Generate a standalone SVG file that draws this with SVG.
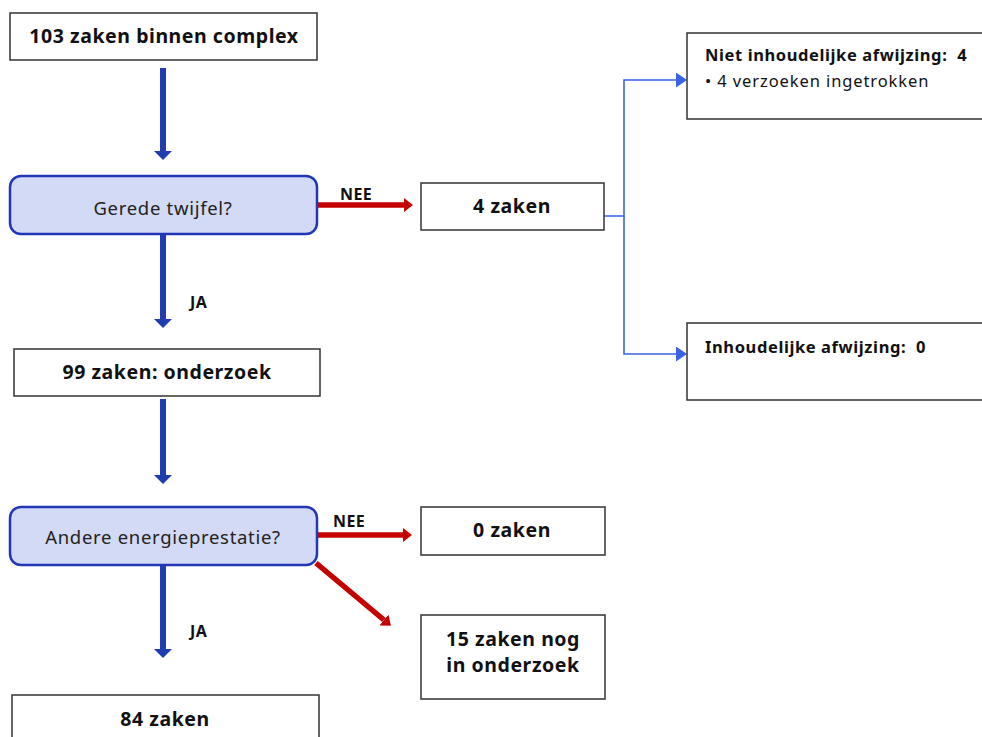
<svg xmlns="http://www.w3.org/2000/svg" width="982" height="737" viewBox="0 0 982 737">
<style>
.box{fill:#fff;stroke:#333;stroke-width:1.5}
.dec{fill:#d3daf5;stroke:#2236b8;stroke-width:2.5}
.t{font-family:"Noto Sans","Open Sans",sans-serif;fill:#111}
.b{font-weight:bold}
.c{text-anchor:middle}
.bx{font-size:19.5px;letter-spacing:0.55px}
.dt{font-size:18.5px;letter-spacing:0.7px;fill:#222}
.rt{font-size:16.5px;letter-spacing:0.6px}
.lb{font-size:16px;letter-spacing:0.4px;font-weight:bold}
.thb{stroke:#1f3db3;stroke-width:6;fill:none}
.thr{stroke:#c40000;stroke-width:5.5;fill:none}
.thin{stroke:#3a62e6;stroke-width:1.6;fill:none}
</style>
<defs>
<marker id="hb" markerUnits="userSpaceOnUse" markerWidth="10" markerHeight="18" refX="0" refY="9" orient="auto" viewBox="0 0 10 18"><path d="M0,0 L9,9 L0,18 z" fill="#1f3db3"/></marker>
<marker id="hr" markerUnits="userSpaceOnUse" markerWidth="10" markerHeight="14" refX="0" refY="7" orient="auto" viewBox="0 0 10 14"><path d="M0,0 L9,7 L0,14 z" fill="#c40000"/></marker>
<marker id="ht" markerUnits="userSpaceOnUse" markerWidth="12" markerHeight="15" refX="0" refY="7.5" orient="auto" viewBox="0 0 12 15"><path d="M0,0 L11,7.5 L0,15 z" fill="#3a62e6"/></marker>
</defs>
<g id="connectors">
<line class="thb" x1="163" y1="68" x2="163" y2="151" marker-end="url(#hb)"/>
<line class="thb" x1="163" y1="234" x2="163" y2="319" marker-end="url(#hb)"/>
<line class="thb" x1="163" y1="399" x2="163" y2="475" marker-end="url(#hb)"/>
<line class="thb" x1="163" y1="565" x2="163" y2="649" marker-end="url(#hb)"/>
<line class="thr" x1="317" y1="205" x2="404" y2="205" marker-end="url(#hr)"/>
<line class="thr" x1="317" y1="535" x2="403" y2="535" marker-end="url(#hr)"/>
<line class="thr" x1="316" y1="563" x2="384" y2="620" marker-end="url(#hr)"/>
<polyline class="thin" points="604,216 624,216 624,80 676,80" marker-end="url(#ht)"/>
<polyline class="thin" points="624,216 624,354 676,354" marker-end="url(#ht)"/>
<text class="t lb" x="340" y="200">NEE</text>
<text class="t lb" x="333" y="527">NEE</text>
<text class="t lb" x="190" y="308">JA</text>
<text class="t lb" x="190" y="637">JA</text>
</g>
<g id="n1"><rect class="box" x="10" y="13" width="307" height="47"/><text class="t b c bx" x="164" y="43">103 zaken binnen complex</text></g>
<g id="n2"><rect class="dec" x="10" y="176" width="307" height="58" rx="11"/><text class="t c dt" x="163" y="215">Gerede twijfel?</text></g>
<g id="n3"><rect class="box" x="421" y="183" width="183" height="47"/><text class="t b c bx" x="512" y="213">4 zaken</text></g>
<g id="n4"><rect class="box" x="687" y="33" width="300" height="86"/><text class="t b rt" x="705" y="61">Niet inhoudelijke afwijzing:&#160; 4</text><text class="t rt" x="705" y="87" style="letter-spacing:0.9px">• 4 verzoeken ingetrokken</text></g>
<g id="n5"><rect class="box" x="687" y="323" width="300" height="77"/><text class="t b rt" x="705" y="353">Inhoudelijke afwijzing:&#160; 0</text></g>
<g id="n6"><rect class="box" x="14" y="349" width="306" height="47"/><text class="t b c bx" x="167" y="379">99 zaken: onderzoek</text></g>
<g id="n7"><rect class="dec" x="10" y="507" width="307" height="58" rx="11"/><text class="t c dt" x="163" y="544">Andere energieprestatie?</text></g>
<g id="n8"><rect class="box" x="421" y="507" width="184" height="48"/><text class="t b c bx" x="512" y="537">0 zaken</text></g>
<g id="n9"><rect class="box" x="421" y="615" width="184" height="84"/><text class="t b c bx" x="513" y="646">15 zaken nog</text><text class="t b c bx" x="513" y="672">in onderzoek</text></g>
<g id="n10"><rect class="box" x="12" y="695" width="307" height="50"/><text class="t b c bx" x="165" y="726">84 zaken</text></g>
</svg>
